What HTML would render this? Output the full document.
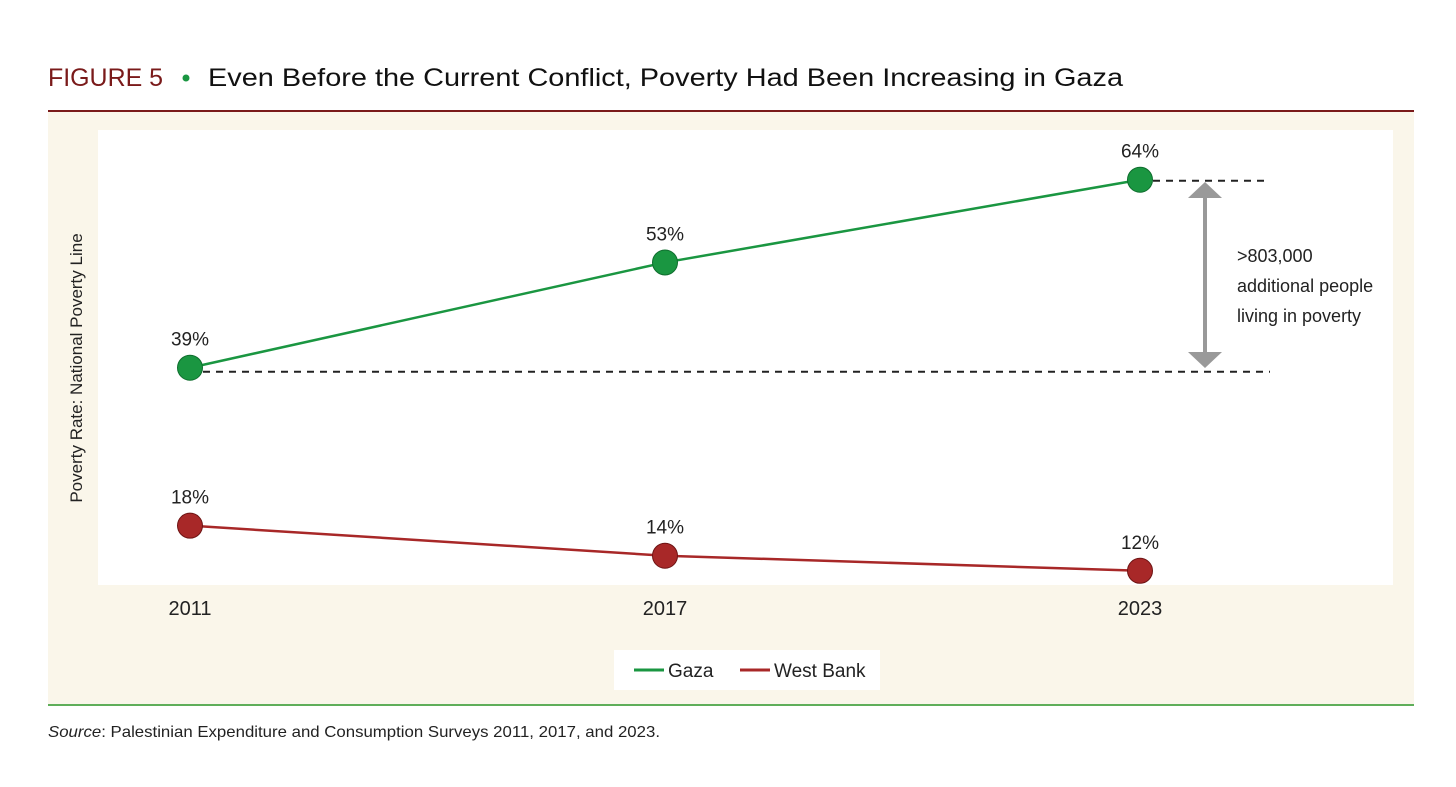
<!DOCTYPE html>
<html><head><meta charset="utf-8"><style>
body{margin:0;background:#fff;width:1456px;height:782px;overflow:hidden;font-family:"Liberation Sans",sans-serif;}
</style></head><body>
<svg width="1456" height="782">
<text x="48" y="86" font-size="25" fill="#7a1a1a" textLength="115" lengthAdjust="spacingAndGlyphs">FIGURE 5</text>
<circle cx="186" cy="78" r="3.5" fill="#1a9641"/>
<text x="208" y="86" font-size="25" fill="#111" textLength="915" lengthAdjust="spacingAndGlyphs">Even Before the Current Conflict, Poverty Had Been Increasing in Gaza</text>
<rect x="48" y="110" width="1366" height="2" fill="#7a1a1a"/>
<rect x="48" y="112" width="1366" height="593" fill="#faf6ea"/>
<rect x="48" y="704" width="1366" height="2" fill="#5fae5a"/>
<rect x="98" y="130" width="1295" height="455" fill="#fff"/>
<text transform="translate(82,368) rotate(-90)" text-anchor="middle" font-size="17" fill="#222">Poverty Rate: National Poverty Line</text>
<g id="chart"></g>
<line x1="1205" y1="196" x2="1205" y2="354" stroke="#999" stroke-width="4"/>
<polygon points="1188,198 1222,198 1205,182" fill="#999"/>
<polygon points="1188,352 1222,352 1205,368" fill="#999"/>
<text font-size="18" fill="#222"><tspan x="1237" y="262">&gt;803,000</tspan><tspan x="1237" y="292">additional people</tspan><tspan x="1237" y="322">living in poverty</tspan></text>
<rect x="614" y="650" width="266" height="40" fill="#fff"/>
<line x1="634" y1="670" x2="664" y2="670" stroke="#1a9641" stroke-width="3"/>
<text x="668" y="677" font-size="19" fill="#222">Gaza</text>
<line x1="740" y1="670" x2="770" y2="670" stroke="#a82828" stroke-width="3"/>
<text x="774" y="677" font-size="19" fill="#222">West Bank</text>
<text x="48" y="737" font-size="16" fill="#222" textLength="612" lengthAdjust="spacingAndGlyphs"><tspan font-style="italic">Source</tspan>: Palestinian Expenditure and Consumption Surveys 2011, 2017, and 2023.</text>
</svg>
<script>
const years=["2011","2017","2023"];
const gaza=[39,53,64];
const westBank=[18,14,12];
const NS="http://www.w3.org/2000/svg";
const g=document.getElementById('chart');
const xs=i=>190+i*475;
const ys=v=>661-7.52*v;
function mk(t,a){const e=document.createElementNS(NS,t);for(const k in a)e.setAttribute(k,a[k]);g.appendChild(e);return e;}
years.forEach((y,i)=>{const t=mk('text',{x:xs(i),y:615,'text-anchor':'middle','font-size':20,fill:'#222'});t.textContent=y;

});
let d1=mk('line',{x1:xs(0),y1:ys(gaza[0])+4,x2:1270,y2:ys(gaza[0])+4,stroke:'#222','stroke-width':2,'stroke-dasharray':'7,6'});


let d2=mk('line',{x1:xs(2),y1:ys(gaza[2])+1,x2:1270,y2:ys(gaza[2])+1,stroke:'#222','stroke-width':2,'stroke-dasharray':'7,6'});


function series(vals,color,stroke,name){
 const l=mk('polyline',{points:vals.map((v,i)=>xs(i)+','+ys(v)).join(' '),fill:'none',stroke:color,'stroke-width':2.5});
 
 
 vals.forEach((v,i)=>{
  const c=mk('circle',{cx:xs(i),cy:ys(v),r:12.5,fill:color,stroke:stroke,'stroke-width':1});
  
  
  const t=mk('text',{x:xs(i),y:ys(v)-22,'text-anchor':'middle','font-size':19,fill:'#222'});t.textContent=v+'%';
  
  
 });
}
series(gaza,'#1a9641','#0f6e2e','gaza');
series(westBank,'#a82828','#6e1414','west-bank');
</script>
</body></html>
